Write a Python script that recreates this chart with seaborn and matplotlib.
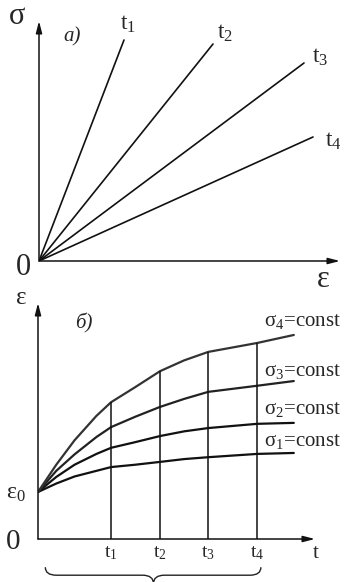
import numpy as np
import pandas as pd
import seaborn as sns
import matplotlib.pyplot as plt
from matplotlib.path import Path
from matplotlib.patches import PathPatch

# ---- a) диаграмма sigma-epsilon: прямые для моментов t1..t4 ----
LINE_LABELS = ['t_1', 't_2', 't_3', 't_4']
EPS_END = [0.85, 1.74, 2.65, 2.74]
SIG_END = [2.21, 2.17, 1.98, 1.24]

# ---- б) кривые ползучести epsilon(t) при sigma = const ----
T = [0, 0.25, 0.5, 0.8, 1.0, 1.33, 1.67, 2.0, 2.33, 3.0, 3.5]
EPS_S1 = [1.00, 1.18, 1.33, 1.45, 1.53, 1.58, 1.64, 1.70, 1.74, 1.81, 1.83]
EPS_S2 = [1.00, 1.32, 1.58, 1.81, 1.94, 2.06, 2.19, 2.29, 2.36, 2.45, 2.47]
EPS_S3 = [1.00, 1.45, 1.80, 2.17, 2.38, 2.60, 2.81, 2.98, 3.13, 3.26, 3.36]
EPS_S4 = [1.00, 1.58, 2.10, 2.62, 2.91, 3.23, 3.57, 3.80, 3.98, 4.17, 4.34]
CURVE_LABELS = ['σ_1', 'σ_2', 'σ_3', 'σ_4']
T_TICKS = [1.0, 1.67, 2.33, 3.0]
T_TICK_LABELS = ['t_1', 't_2', 't_3', 't_4']

W, H = 344, 582


def fx(x, y):
    # пиксели картинки -> доли фигуры
    return x / W, 1 - y / H


def strelki(ax):
    # оси со стрелками вместо спайнов
    for sp in ax.spines.values():
        sp.set_visible(False)
    st = '-|>,head_length=0.7,head_width=0.18'
    ax.annotate('', xy=(1, 0), xytext=(0, 0), xycoords='axes fraction',
                arrowprops=dict(arrowstyle=st, lw=1.1, color='#111', shrinkA=0, shrinkB=0))
    ax.annotate('', xy=(0, 1), xytext=(0, 0), xycoords='axes fraction',
                arrowprops=dict(arrowstyle=st, lw=1.1, color='#111', shrinkA=0, shrinkB=0))


def main():
    sns.set_style('white')
    plt.rcParams['font.family'] = ['Liberation Serif', 'DejaVu Serif']

    fig = plt.figure(figsize=(W / 100, H / 100), dpi=100)

    # -------------------- a) --------------------
    ax1 = fig.add_axes([39 / W, 1 - 261 / H, 301 / W, 240 / H])
    ax1.set_xlim(0, 3.01)
    ax1.set_ylim(0, 2.40)
    for e, s in zip(EPS_END, SIG_END):
        sns.lineplot(x=[0, e], y=[0, s], ax=ax1, color='#111', lw=1.2)
    ofs = [(3, 11), (9, 8), (11.5, 4), (14.5, -3)]
    for e, s, lab, o in zip(EPS_END, SIG_END, LINE_LABELS, ofs):
        ax1.annotate(r'$\mathregular{%s}$' % lab, (e, s), xytext=o, textcoords='offset points',
                     ha='center', va='center', fontsize=17)
    ax1.set_xticks([])
    ax1.set_yticks([])
    strelki(ax1)

    fig.text(*fx(17, 16), 'σ', fontsize=22, ha='center', va='center')
    fig.text(*fx(72, 37), 'a)', fontsize=15, style='italic', ha='center', va='center')
    fig.text(*fx(23, 268), '0', fontsize=22, ha='center', va='center')
    fig.text(*fx(323, 279), 'ε', fontsize=22, ha='center', va='center')

    # -------------------- б) --------------------
    ax2 = fig.add_axes([38 / W, 1 - 539 / H, 277 / W, 236 / H])
    ax2.set_xlim(0, 3.79)
    ax2.set_ylim(0, 5.02)

    df = pd.DataFrame({'t': T * 4,
                       'eps': EPS_S1 + EPS_S2 + EPS_S3 + EPS_S4,
                       'sigma': sum([[c] * len(T) for c in CURVE_LABELS], [])})
    sns.lineplot(data=df, x='t', y='eps', hue='sigma', ax=ax2, legend=False,
                 palette=['#111', '#111', '#222', '#333'], lw=1.6)

    # вертикали t1..t4 до верхней кривой
    verh = [EPS_S4[T.index(t)] for t in T_TICKS]
    ax2.vlines(T_TICKS, 0, verh, color='#111', lw=1.1)

    ends = [EPS_S1[-1], EPS_S2[-1], EPS_S3[-1], EPS_S4[-1]]
    ofs2 = [(-21.6, 8.6), (-21.6, 9.4), (-21.6, 7.2), (-21.6, 10)]
    for y, lab, o in zip(ends, CURVE_LABELS, ofs2):
        ax2.annotate(r'$\mathregular{%s}$=const' % lab, (T[-1], y), xytext=o,
                     textcoords='offset points', ha='left', va='center', fontsize=15)

    ax2.set_xticks(T_TICKS, labels=[r'$\mathregular{%s}$' % s for s in T_TICK_LABELS])
    ax2.tick_params(axis='x', length=0, pad=4, labelsize=14)
    ax2.set_yticks([])
    ax2.set_xlabel('')
    ax2.set_ylabel('')
    strelki(ax2)

    fig.text(*fx(21, 298), 'ε', fontsize=18, ha='center', va='center')
    fig.text(*fx(84, 323), 'б)', fontsize=15, style='italic', ha='center', va='center')
    fig.text(*fx(16, 494), r'$\mathregular{ε_0}$', fontsize=17, ha='center', va='center')
    fig.text(*fx(13, 542), '0', fontsize=21, ha='center', va='center')
    fig.text(*fx(316, 553), 't', fontsize=15, ha='center', va='center')

    # фигурная скобка под осью t
    x0, x1, xm = 0.1, 3.05, 1.58
    yt, ym, yb = -0.6, -0.77, -0.95
    d = 0.15
    verts = [(x0, yt), (x0, ym), (x0 + d, ym), (xm - d, ym), (xm, ym), (xm, yb),
             (xm, ym), (xm + d, ym), (x1 - d, ym), (x1, ym), (x1, yt)]
    codes = [Path.MOVETO, Path.CURVE3, Path.CURVE3, Path.LINETO, Path.CURVE3, Path.CURVE3,
             Path.CURVE3, Path.CURVE3, Path.LINETO, Path.CURVE3, Path.CURVE3]
    ax2.add_patch(PathPatch(Path(verts, codes), fill=False, lw=1.0, color='#222', clip_on=False))

    fig.savefig('out.png', dpi=100)


if __name__ == "__main__":
    main()
